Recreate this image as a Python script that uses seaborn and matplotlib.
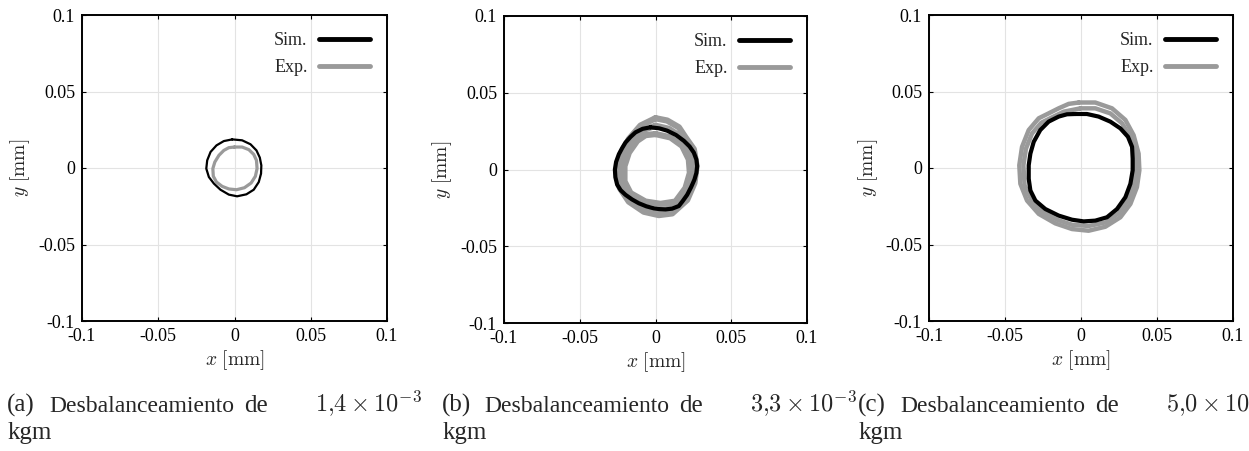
import numpy as np
import matplotlib
matplotlib.use("Agg")
import matplotlib.pyplot as plt
from matplotlib.lines import Line2D
import seaborn as sns

# ---------------- data (in mm) ----------------
tick_values = [-0.1, -0.05, 0, 0.05, 0.1]
tick_labels = ["-0.1", "-0.05", "0", "0.05", "0.1"]
caption_tags = ["(a)", "(b)", "(c)"]
caption_values = ["1{,}4", "3{,}3", "5{,}0"]
legend_labels = ["Sim.", "Exp."]

# (a) 1.4e-3 kgm
sim_a_x = [-0.0015, 0.0050, 0.0105, 0.0144, 0.0166, 0.0176, 0.0174, 0.0159, 0.0126, 0.0078,
           0.0017, -0.0037, -0.0092, -0.0135, -0.0168, -0.0185, -0.0179, -0.0157, -0.0118, -0.0070]
sim_a_y = [0.0187, 0.0181, 0.0155, 0.0115, 0.0068, 0.0017, -0.0037, -0.0092, -0.0142, -0.0172,
           -0.0185, -0.0174, -0.0142, -0.0102, -0.0059, -0.0004, 0.0050, 0.0105, 0.0148, 0.0176]
exp_a_x = [0.0000, 0.0050, 0.0094, 0.0126, 0.0144, 0.0148, 0.0137, 0.0109, 0.0065, 0.0013,
           -0.0037, -0.0081, -0.0118, -0.0139, -0.0142, -0.0129, -0.0102, -0.0070, -0.0037]
exp_a_y = [0.0137, 0.0137, 0.0120, 0.0089, 0.0050, -0.0004, -0.0054, -0.0098, -0.0129, -0.0142,
           -0.0137, -0.0120, -0.0092, -0.0054, -0.0004, 0.0039, 0.0083, 0.0115, 0.0133]

# (b) 3.3e-3 kgm
sim_b_x = [-0.0033, 0.0025, 0.0077, 0.0135, 0.0187, 0.0225, 0.0253, 0.0270, 0.0275, 0.0270,
           0.0257, 0.0235, 0.0209, 0.0180, 0.0154, 0.0110, 0.0066, 0.0025, -0.0011, -0.0060,
           -0.0110, -0.0155, -0.0198, -0.0230, -0.0253, -0.0265, -0.0268, -0.0260, -0.0242, -0.0220,
           -0.0198, -0.0165, -0.0132, -0.0085]
sim_b_y = [0.0275, 0.0268, 0.0253, 0.0225, 0.0187, 0.0150, 0.0110, 0.0065, 0.0022, -0.0022,
           -0.0066, -0.0115, -0.0165, -0.0205, -0.0238, -0.0255, -0.0260, -0.0258, -0.0253, -0.0240,
           -0.0220, -0.0195, -0.0165, -0.0135, -0.0099, -0.0050, 0.0000, 0.0050, 0.0099, 0.0140,
           0.0176, 0.0212, 0.0242, 0.0265]
exp_b_outer_x = [0.0000, 0.0077, 0.0154, 0.0198, 0.0253, 0.0271, 0.0257, 0.0209, 0.0110, 0.0022,
                 -0.0077, -0.0176, -0.0235, -0.0253, -0.0231, -0.0176, -0.0099]
exp_b_outer_y = [0.0334, 0.0319, 0.0275, 0.0209, 0.0132, 0.0022, -0.0088, -0.0198, -0.0286, -0.0297,
                 -0.0275, -0.0209, -0.0121, -0.0011, 0.0099, 0.0198, 0.0286]
exp_b_mid_x = [0.0000, 0.0088, 0.0165, 0.0225, 0.0250, 0.0230, 0.0175, 0.0080, -0.0010, -0.0100,
               -0.0180, -0.0222, -0.0230, -0.0205, -0.0150, -0.0080]
exp_b_mid_y = [0.0285, 0.0265, 0.0215, 0.0120, 0.0010, -0.0100, -0.0200, -0.0258, -0.0265, -0.0245,
               -0.0185, -0.0100, 0.0005, 0.0105, 0.0195, 0.0258]
exp_b_inner_x = [0.0000, 0.0099, 0.0176, 0.0220, 0.0227, 0.0198, 0.0132, 0.0033, -0.0066, -0.0165,
                 -0.0205, -0.0205, -0.0176, -0.0121, -0.0066]
exp_b_inner_y = [0.0231, 0.0209, 0.0154, 0.0066, -0.0022, -0.0121, -0.0209, -0.0224, -0.0209, -0.0154,
                 -0.0077, 0.0022, 0.0110, 0.0187, 0.0224]

# (c) 5.0e-3 kgm
sim_c_x = [-0.0037, 0.0039, 0.0116, 0.0193, 0.0259, 0.0309, 0.0336, 0.0340, 0.0340, 0.0325,
           0.0292, 0.0237, 0.0171, 0.0094, 0.0018, -0.0059, -0.0147, -0.0235, -0.0300, -0.0333,
           -0.0344, -0.0344, -0.0333, -0.0311, -0.0268, -0.0213, -0.0147, -0.0092]
sim_c_y = [0.0353, 0.0353, 0.0336, 0.0303, 0.0259, 0.0204, 0.0138, 0.0061, -0.0015, -0.0103,
           -0.0191, -0.0268, -0.0322, -0.0344, -0.0349, -0.0338, -0.0311, -0.0268, -0.0213, -0.0147,
           -0.0070, 0.0018, 0.0094, 0.0171, 0.0248, 0.0303, 0.0336, 0.0351]
exp_c_outer_x = [-0.0015, 0.0094, 0.0204, 0.0292, 0.0346, 0.0379, 0.0384, 0.0368, 0.0325, 0.0259,
                 0.0160, 0.0050, -0.0059, -0.0169, -0.0278, -0.0355, -0.0399, -0.0406, -0.0388,
                 -0.0344, -0.0278, -0.0213, -0.0147, -0.0081]
exp_c_outer_y = [0.0428, 0.0428, 0.0390, 0.0314, 0.0215, 0.0094, -0.0015, -0.0125, -0.0235, -0.0322,
                 -0.0384, -0.0410, -0.0399, -0.0362, -0.0300, -0.0213, -0.0103, 0.0018, 0.0138,
                 0.0248, 0.0325, 0.0357, 0.0390, 0.0419]
exp_c_mid_x = [-0.0004, 0.0094, 0.0193, 0.0270, 0.0325, 0.0357, 0.0362, 0.0346, 0.0309, 0.0248,
               0.0164, 0.0050, -0.0059, -0.0158, -0.0257, -0.0327, -0.0371, -0.0379, -0.0362,
               -0.0322, -0.0261, -0.0191, -0.0114]
exp_c_mid_y = [0.0390, 0.0390, 0.0357, 0.0292, 0.0204, 0.0094, -0.0015, -0.0114, -0.0213, -0.0296,
               -0.0355, -0.0379, -0.0371, -0.0338, -0.0285, -0.0208, -0.0114, 0.0018, 0.0127,
               0.0226, 0.0296, 0.0331, 0.0368]

panels = [
    dict(sim=(sim_a_x, sim_a_y), exp=[(exp_a_x, exp_a_y)], sim_lw=1.6, exp_lw=2.3),
    dict(sim=(sim_b_x, sim_b_y),
         exp=[(exp_b_outer_x, exp_b_outer_y), (exp_b_mid_x, exp_b_mid_y), (exp_b_inner_x, exp_b_inner_y)],
         sim_lw=3.0, exp_lw=4.5),
    dict(sim=(sim_c_x, sim_c_y),
         exp=[(exp_c_outer_x, exp_c_outer_y), (exp_c_mid_x, exp_c_mid_y)],
         sim_lw=3.0, exp_lw=3.2),
]

# ---------------- style ----------------
sns.set_style("ticks")
plt.rcParams["font.family"] = ["Liberation Serif", "DejaVu Serif"]
plt.rcParams["mathtext.fontset"] = "cm"

SIM_COLOR = "black"
EXP_COLOR = "#9a9a9a"
W, H = 1249, 451

fig = plt.figure(figsize=(W / 100, H / 100), dpi=100)
axes_rects = [
    [82 / W, (H - 321) / H, 305 / W, 306 / H],
    [504 / W, (H - 323) / H, 303 / W, 307 / H],
    [929 / W, (H - 321) / H, 304 / W, 306 / H],
]
caption_x = [7, 442, 858]


def closed(a):
    a = list(a)
    return np.array(a + a[:1])


for i, (rect, p) in enumerate(zip(axes_rects, panels)):
    ax = fig.add_axes(rect)
    for ex, ey in p["exp"]:
        sns.lineplot(x=closed(ex), y=closed(ey), sort=False, estimator=None,
                     color=EXP_COLOR, lw=p["exp_lw"], ax=ax, solid_joinstyle="round")
    sx, sy = p["sim"]
    sns.lineplot(x=closed(sx), y=closed(sy), sort=False, estimator=None,
                 color=SIM_COLOR, lw=p["sim_lw"], ax=ax, solid_joinstyle="round")

    ax.set_xlim(-0.1, 0.1)
    ax.set_ylim(-0.1, 0.1)
    ax.set_xticks(tick_values)
    ax.set_xticklabels(tick_labels)
    ax.set_yticks(tick_values)
    ax.set_yticklabels(tick_labels)
    ax.grid(True, color="#e3e3e3", lw=0.8)
    ax.set_axisbelow(True)
    ax.tick_params(direction="in", length=3, width=0.8, top=True, right=True,
                   labelsize=13, pad=5, colors="black")
    for s in ax.spines.values():
        s.set_visible(True)
        s.set_linewidth(1.4)
        s.set_color("black")
    ax.set_xlabel(r"$x\ [\mathrm{mm}]$", fontsize=14, labelpad=2)
    ax.set_ylabel(r"$y\ [\mathrm{mm}]$", fontsize=14, labelpad=4)

    handles = [Line2D([], [], color=SIM_COLOR, lw=3.5),
               Line2D([], [], color=EXP_COLOR, lw=3.5)]
    ax.legend(handles, legend_labels, loc="upper right", frameon=False,
              markerfirst=False, handlelength=2.8, fontsize=13,
              labelspacing=0.55, borderaxespad=0.55, handletextpad=0.65)

    # caption (first line justified as in the reference), then "kgm"
    x0 = caption_x[i]
    base1 = (H - 412) / H
    base2 = (H - 439) / H
    fs = 18
    fig.text((x0) / W, base1, caption_tags[i], ha="left", va="baseline", fontsize=fs)
    fig.text((x0 + 42) / W, base1, "Desbalanceamiento", ha="left", va="baseline", fontsize=17)
    fig.text((x0 + 237) / W, base1, "de", ha="left", va="baseline", fontsize=fs)
    fig.text((x0 + 308) / W, base1, r"$%s\times10^{-3}$" % caption_values[i],
             ha="left", va="baseline", fontsize=17.5)
    fig.text((x0 + 1) / W, base2, "kgm", ha="left", va="baseline", fontsize=fs)

fig.savefig("out.png", dpi=100)
